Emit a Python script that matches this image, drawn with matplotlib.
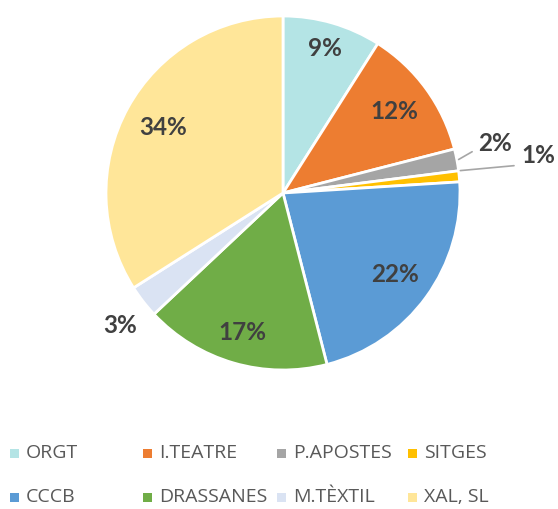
import numpy as np
import matplotlib.pyplot as plt
from matplotlib.patches import Rectangle

# Data
categories = ["ORGT", "I.TEATRE", "P.APOSTES", "SITGES",
              "CCCB", "DRASSANES", "M.TÈXTIL", "XAL, SL"]
shares = [9, 12, 2, 1, 22, 17, 3, 34]
colors = ["#B4E4E5", "#ED7D31", "#A5A5A5", "#FFC000",
          "#5B9BD5", "#70AD47", "#DAE3F3", "#FFE699"]

label_color = "#404040"
legend_color = "#595959"

fig = plt.figure(figsize=(5.58, 5.09), dpi=100)
ax = fig.add_axes([106 / 558, 139 / 509, 354 / 558, 354 / 509])

wedges, _ = ax.pie(shares, colors=colors, startangle=90, counterclock=False,
                   wedgeprops=dict(edgecolor="white", linewidth=2))
ax.set_xlim(-1, 1)
ax.set_ylim(-1, 1)
ax.set_aspect("equal")
ax.axis("off")

# inside labels: radius as fraction of pie radius
inside_r = {0: 0.85, 1: 0.78, 4: 0.78, 5: 0.82, 7: 0.77}
# outside labels: text position in axes data units
outside_pos = {2: (1.20, 0.28), 3: (1.44, 0.21), 6: (-0.92, -0.75)}
line_attach = {2: (0, 0.3), 3: (0, 0.1)}

for i, (w, v) in enumerate(zip(wedges, shares)):
    ang = np.deg2rad((w.theta1 + w.theta2) / 2)
    txt = f"{v}%"
    kw = dict(fontsize=17.5, fontweight="bold", color=label_color,
              family="Lato", ha="center", va="center")
    if i in inside_r:
        r = inside_r[i]
        ax.text(r * np.cos(ang), r * np.sin(ang), txt, **kw)
    else:
        tx, ty = outside_pos[i]
        if i == 6:
            ax.text(tx, ty, txt, **kw)
        else:
            if i == 3:
                # tiny slice: leader starts near its upper edge
                ang = np.deg2rad(w.theta2)
            edge = (1.01 * np.cos(ang), 1.01 * np.sin(ang))
            ax.annotate(txt, xy=edge, xytext=(tx, ty), textcoords="data",
                        arrowprops=dict(arrowstyle="-", color="#A6A6A6",
                                        lw=1.2, shrinkA=3, shrinkB=0,
                                        relpos=line_attach[i]),
                        annotation_clip=False, **kw)

# legend, 4 equal columns by 2 rows
col_x = [10, 143, 277, 408]
row_y = [453, 497]
sq = 9
for k, (name, c) in enumerate(zip(categories, colors)):
    x = col_x[k % 4]
    y = row_y[k // 4]
    fig.patches.append(Rectangle((x / 558, (509 - y - sq / 2) / 509),
                                 sq / 558, sq / 509, facecolor=c,
                                 edgecolor="none", transform=fig.transFigure))
    fig.text((x + 16) / 558, (509 - y) / 509, name, fontsize=14,
             color=legend_color, family="Open Sans", ha="left", va="center")

fig.savefig("out.png", dpi=100)
